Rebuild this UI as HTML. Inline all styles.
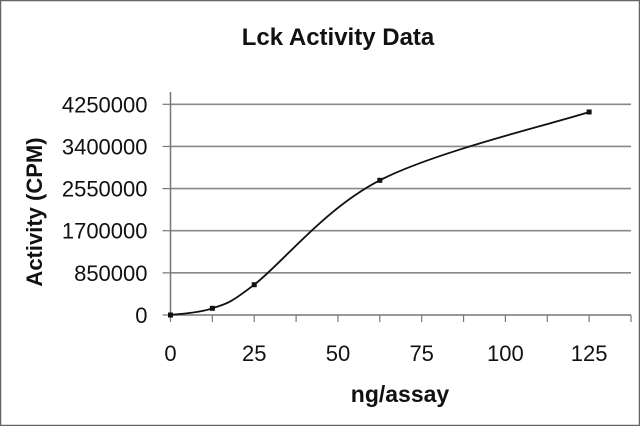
<!DOCTYPE html>
<html><head><meta charset="utf-8"><style>
html,body{margin:0;padding:0;background:#fff}
svg{display:block}
text{font-family:"Liberation Sans",Arial,sans-serif;fill:#111}
</style></head><body>
<svg id="chart" width="640" height="426" viewBox="0 0 640 426" xmlns="http://www.w3.org/2000/svg">
<rect x="0.5" y="0.5" width="639" height="425" fill="#fff" stroke="#666" stroke-width="1.5"/>
<text x="338" y="45" font-size="24" font-weight="bold" text-anchor="middle">Lck Activity Data</text>
<text x="400" y="402" font-size="23" font-weight="bold" text-anchor="middle">ng/assay</text>
<text x="0" y="0" font-size="22" font-weight="bold" text-anchor="middle" transform="translate(42,212) rotate(-90)">Activity (CPM)</text>
<g id="grid"></g><g id="axes"></g><g id="series"></g>
</svg>
<script>
const xValues = [0, 12.5, 25, 62.5, 125];
const yValues = [0, 135000, 611000, 2717000, 4095000];
const yTicks = [0, 850000, 1700000, 2550000, 3400000, 4250000];
const yTickLabels = ["0", "850000", "1700000", "2550000", "3400000", "4250000"];
const xTicks = [0, 25, 50, 75, 100, 125];
const xTickLabels = ["0", "25", "50", "75", "100", "125"];
const xMinor = [0,12.5,25,37.5,50,62.5,75,87.5,100,112.5,125,137.5];

const NS = "http://www.w3.org/2000/svg";
const X0 = 170.5, X1 = 631, XMAX = 137.5;
const Y0 = 315, Y1 = 104.3, YMAX = 4250000;
const sx = v => X0 + (v / XMAX) * (X1 - X0);
const sy = v => Y0 - (v / YMAX) * (Y0 - Y1);
function mk(tag, attrs, parent){const e=document.createElementNS(NS,tag);for(const k in attrs)e.setAttribute(k,attrs[k]);parent.appendChild(e);return e;}
const grid=document.getElementById('grid'), axes=document.getElementById('axes'), series=document.getElementById('series');

yTicks.forEach((t,i)=>{
  if(t>0){const g=mk('line',{x1:X0,x2:X1,y1:sy(t),y2:sy(t),stroke:'#888','stroke-width':1.6},grid);
  
  }
  const tk=mk('line',{x1:X0-8,x2:X0,y1:sy(t),y2:sy(t),stroke:'#777','stroke-width':1.2},axes);
  
  
  const lb=mk('text',{x:X0-23,y:sy(t)+8,'font-size':22,'text-anchor':'end'},axes);
  lb.textContent=yTickLabels[i];
  
  
});
const ya=mk('line',{x1:X0,x2:X0,y1:92,y2:Y0,stroke:'#777','stroke-width':1.5},axes);


const xa=mk('line',{x1:X0,x2:X1,y1:Y0,y2:Y0,stroke:'#777','stroke-width':1.5},axes);


xMinor.forEach(t=>{
  const tk=mk('line',{x1:sx(t),x2:sx(t),y1:Y0,y2:Y0+7,stroke:'#777','stroke-width':1.2},axes);
  
  
});
xTicks.forEach((t,i)=>{
  const lb=mk('text',{x:sx(t),y:361,'font-size':22,'text-anchor':'middle'},axes);
  lb.textContent=xTickLabels[i];
  
  
});

const pts=xValues.map((x,i)=>[sx(x),sy(yValues[i])]);
let d=`M${pts[0][0]},${pts[0][1]}`;
for(let i=0;i<pts.length-1;i++){
  const p0=pts[i-1]||pts[i],p1=pts[i],p2=pts[i+1],p3=pts[i+2]||pts[i+1];
  const t=1/6;
  const c1=[p1[0]+(p2[0]-p0[0])*t,p1[1]+(p2[1]-p0[1])*t];
  const c2=[p2[0]-(p3[0]-p1[0])*t,p2[1]-(p3[1]-p1[1])*t];
  d+=` C${c1[0]},${c1[1]} ${c2[0]},${c2[1]} ${p2[0]},${p2[1]}`;
}
const line=mk('path',{d:d,fill:'none',stroke:'#111','stroke-width':1.8},series);


pts.forEach(p=>{
  const m=mk('rect',{x:p[0]-2.5,y:p[1]-2.5,width:5,height:5,fill:'#111'},series);
  
  
});
</script>
</body></html>
